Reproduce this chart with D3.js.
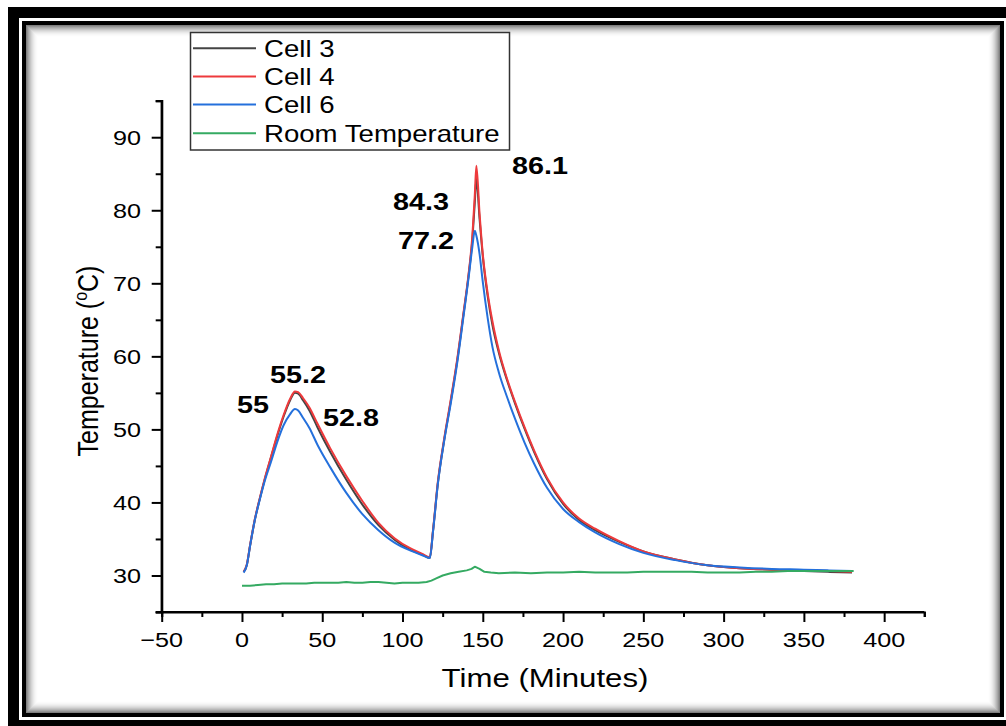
<!DOCTYPE html>
<html>
<head>
<meta charset="utf-8">
<script src="https://cdn.jsdelivr.net/npm/d3@7/dist/d3.min.js"></script>
<style>
  html, body { margin: 0; padding: 0; background: #fff; }
  svg { display: block; }
  text { font-family: "Liberation Sans", Arial, sans-serif; fill: #000; }
</style>
</head>
<body>
<svg id="chart" width="1006" height="726"></svg>
<script>
// ---------------- DATA ----------------
const seriesNames = ["Cell 3", "Cell 4", "Cell 6", "Room Temperature"];

const cellTime = [1, 3, 5, 8, 11, 14, 18, 22, 26, 30, 33, 35, 38, 42, 47, 55, 65, 75, 85, 95, 105, 112, 117,
  119, 122, 126, 130, 134, 138, 141, 143.5, 145, 146, 148, 150, 153, 156, 160, 165, 170, 176, 182, 190,
  200, 210, 220, 235, 250, 270, 290, 310, 330, 350, 365, 380];

const cell3 = [30.5, 31.4, 34.0, 37.6, 40.4, 43.0, 46.1, 49.1, 51.8, 54.0, 55.0, 54.9, 54.0, 52.6, 50.3, 46.9, 43.1, 39.7, 36.9, 34.9, 33.5, 32.9, 32.4,
  36.1, 42.6, 48.6, 53.8, 59.3, 65.8, 70.8, 76.0, 81.0, 84.3, 78.8, 73.7, 68.3, 64.3, 60.5, 56.8, 53.6, 50.1, 46.9, 43.2,
  39.8, 37.6, 36.2, 34.6, 33.3, 32.2, 31.4, 31.0, 30.8, 30.6, 30.5, 30.4];

const cell4 = [30.5, 31.5, 34.1, 37.7, 40.5, 43.1, 46.2, 49.3, 52.0, 54.2, 55.2, 55.1, 54.3, 53.0, 50.8, 47.4, 43.6, 40.2, 37.2, 35.1, 33.7, 33.0, 32.5,
  36.2, 42.8, 48.8, 54.0, 59.5, 66.0, 71.0, 76.5, 82.0, 86.1, 79.5, 74.0, 68.7, 64.8, 60.8, 57.0, 53.8, 50.3, 47.1, 43.4,
  40.0, 37.8, 36.4, 34.7, 33.3, 32.2, 31.4, 31.0, 30.8, 30.7, 30.6, 30.5];

const cell6 = [30.4, 31.4, 34.0, 37.6, 40.3, 42.8, 45.5, 48.3, 50.6, 52.1, 52.8, 52.6, 51.6, 50.2, 47.9, 44.8, 41.3, 38.4, 36.2, 34.5, 33.4, 32.8, 32.4,
  36.0, 42.5, 48.5, 53.5, 59.0, 65.5, 70.5, 75.0, 77.2, 76.5, 74.0, 70.2, 65.3, 61.3, 57.8, 54.5, 51.5, 48.2, 45.3, 42.0,
  39.1, 37.3, 35.9, 34.3, 33.1, 32.1, 31.4, 31.1, 30.9, 30.8, 30.7, 30.6];

const roomTime = [0, 5, 10, 15, 20, 25, 30, 35, 40, 45, 50, 55, 60, 65, 70, 75, 80, 85, 90, 95, 100, 105, 110, 115,
  118, 121, 125, 130, 135, 140, 143, 145, 148, 151, 155, 160, 170, 180, 190, 200, 210, 220, 230, 240, 250,
  260, 270, 280, 290, 300, 310, 320, 330, 340, 350, 360, 370, 381];

const roomTemp = [28.6, 28.6, 28.7, 28.8, 28.8, 28.9, 28.9, 28.9, 28.9, 29.0, 29.0, 29.0, 29.0, 29.1, 29.0, 29.0, 29.1, 29.1, 29.0, 28.9, 29.0, 29.0, 29.0, 29.1,
  29.3, 29.6, 30.0, 30.3, 30.5, 30.7, 30.9, 31.2, 30.9, 30.5, 30.4, 30.3, 30.4, 30.3, 30.4, 30.4, 30.5, 30.4, 30.4, 30.4, 30.5,
  30.5, 30.5, 30.5, 30.4, 30.4, 30.4, 30.5, 30.5, 30.6, 30.6, 30.6, 30.6, 30.6];

const xMajorTicks = [-50, 0, 50, 100, 150, 200, 250, 300, 350, 400];
const xMinorTicks = [-25, 25, 75, 125, 175, 225, 275, 325, 375, 425];
const yMajorTicks = [30, 40, 50, 60, 70, 80, 90];
const yMinorTicks = [25, 35, 45, 55, 65, 75, 85, 95];

const peakLabels = ["55", "55.2", "52.8", "84.3", "77.2", "86.1"];
// label anchor positions in data units (time, temperature)
const peakLabelTime = [-3.1, 17.5, 50.5, 94.1, 97.2, 168.2];
const peakLabelTemp = [52.25, 56.35, 50.47, 80.0, 74.66, 84.97];

// ---------------- LAYOUT ----------------
const colors = ["#444444", "#ee3a3c", "#2470dc", "#35aa62"];
const SX = 1.2; // horizontal stretch of glyphs in the reference

const svg = d3.select("#chart");
const x = d3.scaleLinear().domain([-50, 425]).range([161.7, 924.3]);
const y = d3.scaleLinear().domain([25, 95]).range([612, 100.7]);

// ---- frame ----
svg.append("rect").attr("x", 0).attr("y", 0).attr("width", 1006).attr("height", 726).attr("fill", "#fff");
svg.append("rect").attr("x", 8).attr("y", 7).attr("width", 1100).attr("height", 800).attr("fill", "#000");
svg.append("rect").attr("x", 19).attr("y", 18).attr("width", 987).attr("height", 702).attr("fill", "#fff");
svg.append("rect").attr("x", 24).attr("y", 23).attr("width", 978).attr("height", 692)
  .attr("fill", "none").attr("stroke", "#000").attr("stroke-width", 4);
const shadow = svg.append("g");
for (let i = 0; i < 12; i++) {
  const a = 0.5 * Math.pow(1 - i / 12, 2);
  shadow.append("rect")
    .attr("x", 26.5 + i).attr("y", 25.5 + i)
    .attr("width", 973 - 2 * i).attr("height", 687 - 2 * i)
    .attr("fill", "none").attr("stroke", `rgba(0,0,0,${a.toFixed(3)})`).attr("stroke-width", 1);
}

function label(g, px, py, str, anchor, size, weight, rotate) {
  return g.append("text")
    .attr("transform", `translate(${px},${py}) scale(${SX},1)` + (rotate ? " rotate(-90)" : ""))
    .attr("text-anchor", anchor)
    .attr("font-size", size)
    .attr("font-weight", weight || "normal")
    .text(str);
}

// ---- axes ----
const axX = svg.append("g").attr("transform", `translate(0,${y(25)})`);
axX.call(d3.axisBottom(x).tickValues(xMajorTicks).tickSize(10).tickFormat(""));
axX.append("g").call(d3.axisBottom(x).tickValues(xMinorTicks).tickSize(5).tickFormat(""));
const axY = svg.append("g").attr("transform", `translate(${x(-50)},0)`);
axY.call(d3.axisLeft(y).tickValues(yMajorTicks).tickSize(10).tickFormat(""));
axY.append("g").call(d3.axisLeft(y).tickValues(yMinorTicks).tickSize(6).tickFormat(""));
svg.selectAll(".domain").attr("stroke", "#000").attr("stroke-width", 2.2);
svg.selectAll(".tick line").attr("stroke", "#000").attr("stroke-width", 2);
axX.select(".domain").attr("d", `M${x(-50) - 6},0H${x(425)}`);
axY.select(".domain").attr("d", `M0,${y(25)}V${y(95)}`);
axX.select("g").select(".domain").remove();
axY.select("g").select(".domain").remove();

const fmt = d3.format("");
const tl = svg.append("g");
xMajorTicks.forEach(v => label(tl, x(v), 647, fmt(v), "middle", 21));
yMajorTicks.forEach(v => label(tl, 141, y(v) + 7.5, fmt(v), "end", 21));

// axis titles
label(svg, 545, 687, "Time (Minutes)", "middle", 26);
const yt = label(svg, 98, 361, "", "middle", 25, "normal", true);
yt.append("tspan").text("Temperature (");
yt.append("tspan").attr("font-size", 16).attr("dy", -9).text("o");
yt.append("tspan").attr("dy", 9).text("C)");

// ---- lines ----
const smooth = d3.line().x(d => x(d[0])).y(d => y(d[1])).curve(d3.curveMonotoneX);
const plain = d3.line().x(d => x(d[0])).y(d => y(d[1]));
const series = [
  d3.zip(cellTime, cell3),
  d3.zip(cellTime, cell4),
  d3.zip(cellTime, cell6),
  d3.zip(roomTime, roomTemp)
];
series.forEach((s, i) => {
  svg.append("path").datum(s).attr("d", i < 3 ? smooth : plain)
    .attr("fill", "none").attr("stroke", colors[i]).attr("stroke-width", 2)
    .attr("stroke-linejoin", "round");
});

// ---- peak labels ----
peakLabels.forEach((s, i) => {
  label(svg, x(peakLabelTime[i]), y(peakLabelTemp[i]), s, "start", 24, "bold");
});

// ---- legend ----
const lg = svg.append("g");
lg.append("rect").attr("x", 190.5).attr("y", 32.5).attr("width", 319).attr("height", 117.5)
  .attr("fill", "#fff").attr("stroke", "#333").attr("stroke-width", 1.5);
const rowY = [48.3, 76.6, 104.5, 133.3];
seriesNames.forEach((n, i) => {
  lg.append("line").attr("x1", 193).attr("x2", 256).attr("y1", rowY[i]).attr("y2", rowY[i])
    .attr("stroke", colors[i]).attr("stroke-width", 2);
  label(lg, 264, rowY[i] + 8.3, n, "start", 23);
});
</script>
</body>
</html>
